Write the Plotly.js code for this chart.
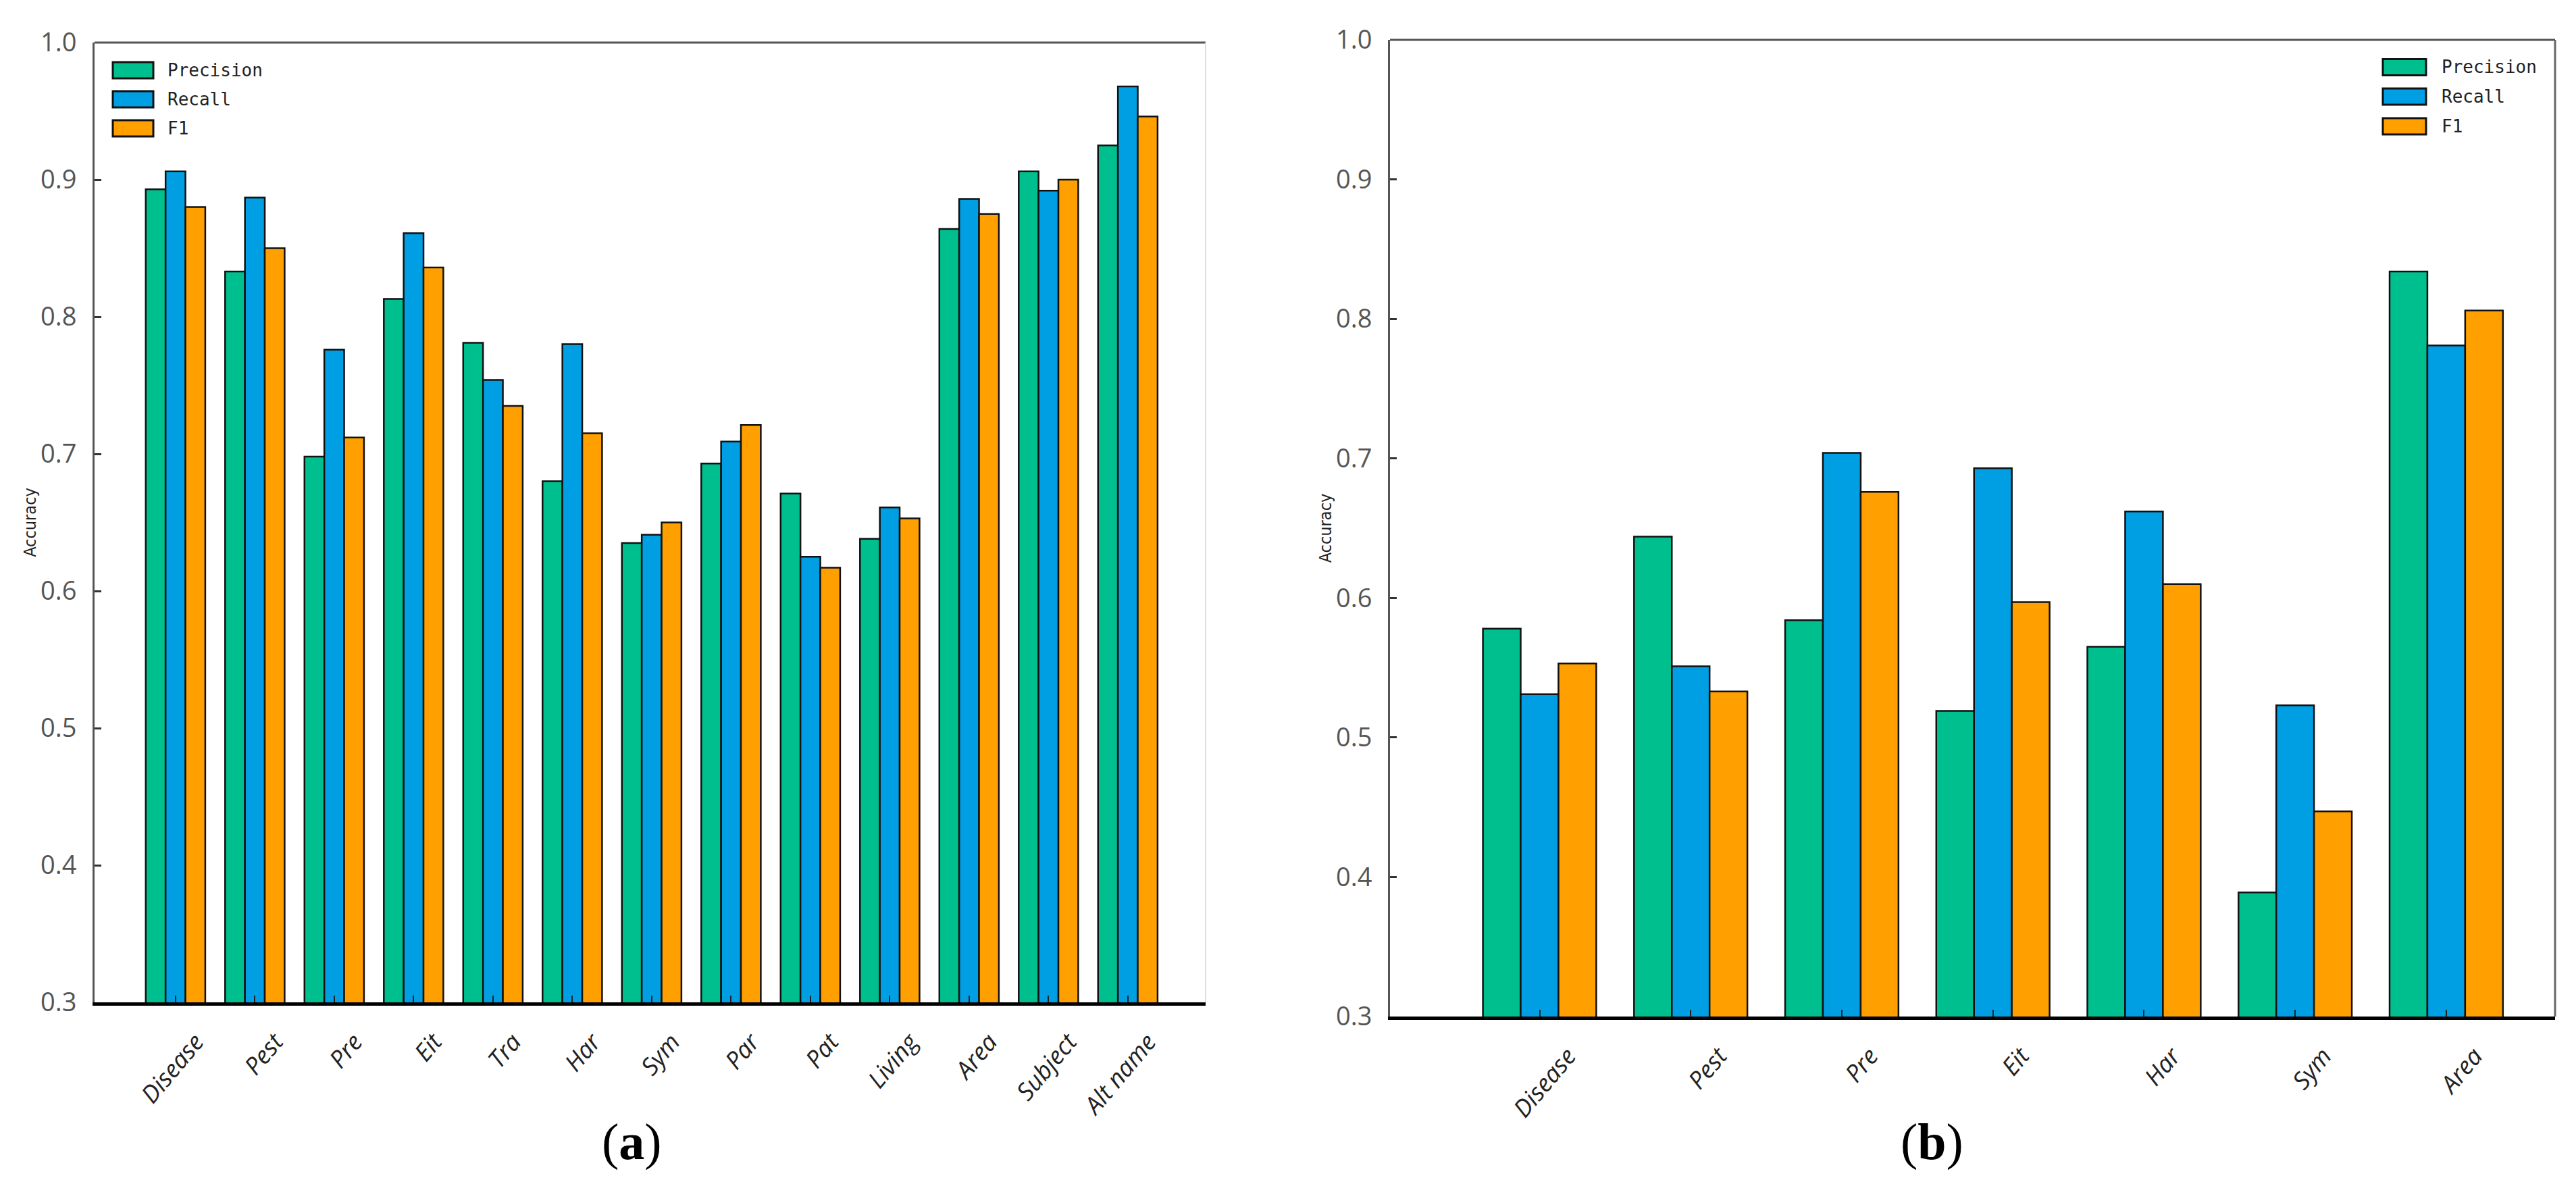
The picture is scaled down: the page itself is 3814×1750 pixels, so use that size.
<!DOCTYPE html>
<html>
<head>
<meta charset="utf-8">
<script src="https://cdn.plot.ly/plotly-3.0.1.min.js"></script>
<style>html,body{margin:0;padding:0;background:#fff;}#chart{width:3814px;height:1750px;}</style>
</head>
<body>
<div id="chart"></div>
<script>
// ---- data ----
const seriesNames = ['Precision', 'Recall', 'F1'];

const categoriesA = ['Disease', 'Pest', 'Pre', 'Eit', 'Tra', 'Har', 'Sym', 'Par', 'Pat', 'Living', 'Area', 'Subject', 'Alt name'];
const precisionA = [0.893, 0.833, 0.698, 0.813, 0.781, 0.680, 0.635, 0.693, 0.671, 0.638, 0.864, 0.906, 0.925];
const recallA    = [0.906, 0.887, 0.776, 0.861, 0.754, 0.780, 0.641, 0.709, 0.625, 0.661, 0.886, 0.892, 0.968];
const f1A        = [0.880, 0.850, 0.712, 0.836, 0.735, 0.715, 0.650, 0.721, 0.617, 0.653, 0.875, 0.900, 0.946];

const categoriesB = ['Disease', 'Pest', 'Pre', 'Eit', 'Har', 'Sym', 'Area'];
const precisionB = [0.578, 0.644, 0.584, 0.519, 0.565, 0.389, 0.834];
const recallB    = [0.531, 0.551, 0.704, 0.693, 0.662, 0.523, 0.781];
const f1B        = [0.553, 0.533, 0.676, 0.597, 0.610, 0.447, 0.806];

const yTickVals = [0.3, 0.4, 0.5, 0.6, 0.7, 0.8, 0.9, 1.0];
const yTickText = ['0.3', '0.4', '0.5', '0.6', '0.7', '0.8', '0.9', '1.0'];

// ---- styles ----
const W = 3814, H = 1750;
const colors = ['#00BF8E', '#009FE3', '#FFA000'];
const px = x => x / W;
const py = y => 1 - y / H;

const valsA = [precisionA, recallA, f1A];
const valsB = [precisionB, recallB, f1B];

const traces = [];
seriesNames.forEach((name, i) => {
  traces.push({
    type: 'bar', name: name, x: categoriesA, y: valsA[i], xaxis: 'x', yaxis: 'y',
    marker: {color: colors[i], line: {color: '#111', width: 2.5}}, showlegend: false
  });
});
seriesNames.forEach((name, i) => {
  traces.push({
    type: 'bar', name: name, x: categoriesB, y: valsB[i], xaxis: 'x2', yaxis: 'y2',
    marker: {color: colors[i], line: {color: '#111', width: 2.5}}, showlegend: false
  });
});

const tickFontY = {family: 'Open Sans, Lato, sans-serif', size: 38, color: '#555'};
const tickFontX = {family: 'Open Sans, sans-serif', size: 36, color: '#222', style: 'italic'};
const titleFont = {family: 'DejaVu Sans Condensed, Roboto, sans-serif', size: 25, color: '#222'};

function yAxis(domain, anchor) {
  return {
    domain: domain, anchor: anchor, range: [0.3, 1.0], tickmode: 'array',
    tickvals: yTickVals, ticktext: yTickText, ticks: 'inside', ticklen: 10, tickwidth: 3,
    tickcolor: '#333', showline: true, linecolor: '#555', linewidth: 3, showgrid: false,
    zeroline: false, tickfont: tickFontY, ticklabelstandoff: 16,
    title: {text: 'Accuracy', font: titleFont, standoff: 0}
  };
}
function xAxis(domain, anchor, range, shift) {
  return {
    domain: domain, anchor: anchor, type: 'category', range: range,
    ticks: 'inside', ticklen: 10, tickwidth: 2, tickcolor: '#222',
    showline: true, linecolor: '#000', linewidth: 5, showgrid: false, zeroline: false,
    tickangle: -50, tickfont: tickFontX, ticklabelshift: shift, ticklabelstandoff: 18
  };
}

const shapes = [
  // frame (a): top + faint right
  {type: 'line', xref: 'x domain', yref: 'y domain', x0: 0, x1: 1, y0: 1, y1: 1, line: {color: '#555', width: 3}},
  {type: 'line', xref: 'x domain', yref: 'y domain', x0: 1, x1: 1, y0: 0, y1: 1, line: {color: '#ddd', width: 2}},
  // frame (b): top + right
  {type: 'line', xref: 'x2 domain', yref: 'y2 domain', x0: 0, x1: 1, y0: 1, y1: 1, line: {color: '#555', width: 3}},
  {type: 'line', xref: 'x2 domain', yref: 'y2 domain', x0: 1, x1: 1, y0: 0, y1: 1, line: {color: '#666', width: 3}}
];
const annotations = [];

function addLegend(boxX0, boxX1, textX, rowYs, halfH) {
  seriesNames.forEach((name, i) => {
    shapes.push({
      type: 'rect', xref: 'paper', yref: 'paper',
      x0: px(boxX0), x1: px(boxX1), y0: py(rowYs[i] + halfH), y1: py(rowYs[i] - halfH),
      fillcolor: colors[i], line: {color: '#111', width: 3}
    });
    annotations.push({
      xref: 'paper', yref: 'paper', x: px(textX), y: py(rowYs[i]), xanchor: 'left', yanchor: 'middle',
      text: name, showarrow: false, font: {family: 'DejaVu Sans Mono, monospace', size: 26, color: '#222'}
    });
  });
}
addLegend(167, 227, 246, [104, 147, 190], 12);
addLegend(3528, 3592, 3613, [99.5, 143, 187], 12);

annotations.push({xref: 'paper', yref: 'paper', x: px(935), y: py(1690), xanchor: 'center', yanchor: 'middle',
  text: '(<b>a</b>)', showarrow: false, font: {family: 'Liberation Serif, serif', size: 76, color: '#000'}});
annotations.push({xref: 'paper', yref: 'paper', x: px(2860), y: py(1690), xanchor: 'center', yanchor: 'middle',
  text: '(<b>b</b>)', showarrow: false, font: {family: 'Liberation Serif, serif', size: 76, color: '#000'}});

const layout = {
  width: W, height: H, margin: {l: 0, r: 0, t: 0, b: 0},
  paper_bgcolor: '#fff', plot_bgcolor: '#fff',
  barmode: 'group', bargap: 0.25, bargroupgap: 0,
  showlegend: false,
  xaxis: xAxis([px(140), px(1785)], 'y', [-1.02, 12.98], 30),
  yaxis: yAxis([py(1484), py(63)], 'x'),
  xaxis2: xAxis([px(2058), px(3783)], 'y2', [-0.99, 6.72], 42),
  yaxis2: yAxis([py(1505), py(59)], 'x2'),
  shapes: shapes, annotations: annotations
};

Plotly.newPlot('chart', traces, layout, {staticPlot: true});
</script>
</body>
</html>
